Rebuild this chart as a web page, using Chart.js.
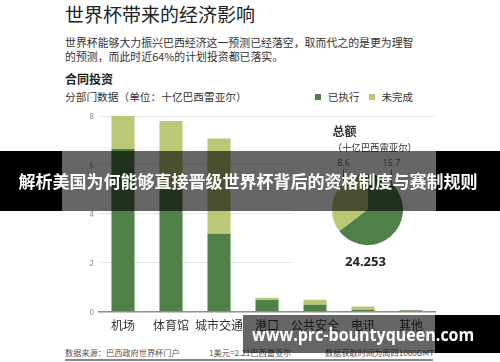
<!DOCTYPE html>
<html>
<head>
<meta charset="utf-8">
<script src="https://cdn.jsdelivr.net/npm/chart.js@4.4.1/dist/chart.umd.min.js"></script>
<style>
  html, body { margin: 0; padding: 0; background: #fff; }
  body { width: 500px; height: 362px; position: relative; overflow: hidden;
         font-family: "Noto Sans CJK SC", "Noto Sans", sans-serif; color: #333; }
  .abs { position: absolute; white-space: nowrap; }
  #title { left: 65px; top: 2px; font-size: 19px; line-height: 24px; color: #222; }
  #intro { left: 65px; top: 35px; font-size: 10.9px; line-height: 14px; }
  #sub { left: 65px; top: 71px; font-size: 12px; line-height: 16px; font-weight: bold; color: #222; }
  #unit { left: 65px; top: 90px; font-size: 10.7px; line-height: 14px; }
  #legend { left: 315px; top: 90px; font-size: 10.5px; line-height: 14px; }
  #legend span.sw { display: inline-block; width: 6px; height: 6px; margin-right: 7px; vertical-align: 1px; }
  #legend span.item { margin-right: 9px; }
  #barWrap { left: 86px; top: 100px; width: 350px; height: 240px; }
  #pieWrap { left: 292px; top: 120px; width: 144px; height: 170px; background: #fff; }
  .foot { top: 346px; font-size: 8.2px; line-height: 12px; color: #555; }
  #footLine { left: 65px; top: 359px; width: 368px; height: 2px; background: #888; }
  .blk { position: absolute; background: #000; }
  .shade { position: absolute; background: rgba(0,0,0,0.6); }
  #bannerText { left: 0; top: 151px; width: 496px; height: 60px; line-height: 60px; text-align: center;
                font-size: 17px; font-weight: bold; color: #fff; }
  #mark { left: 252px; top: 315px; height: 38px; line-height: 38px; font-family: "Open Sans", "Noto Sans", sans-serif;
          font-size: 18px; font-weight: bold; color: #fff; transform: scaleX(0.89); transform-origin: 0 50%; }
</style>
</head>
<body>
<div id="title" class="abs">世界杯带来的经济影响</div>
<div id="intro" class="abs">世界杯能够大力振兴巴西经济这一预测已经落空，取而代之的是更为理智<br>的预测，而此时近64%的计划投资都已落实。</div>
<div id="sub" class="abs">合同投资</div>
<div id="unit" class="abs">分部门数据（单位：十亿巴西雷亚尔）</div>
<div id="legend" class="abs"></div>

<div id="barWrap" class="abs"><canvas id="barChart"></canvas></div>
<div id="pieWrap" class="abs"><canvas id="pieChart"></canvas></div>

<div class="abs foot" style="left:65px">数据来源：巴西政府世界杯门户</div>
<div class="abs foot" style="left:209px">1美元=2.21巴西雷亚尔</div>
<div class="abs foot" style="left:325px">数据获取时间为周四1000GMT</div>
<div id="footLine" class="abs"></div>

<!-- overlay banner and watermark -->
<div class="blk" style="left:0;top:151px;width:62px;height:60px"></div>
<div class="shade" style="left:62px;top:151px;width:374px;height:60px"></div>
<div class="blk" style="left:436px;top:151px;width:64px;height:60px"></div>
<div id="bannerText" class="abs">解析美国为何能够直接晋级世界杯背后的资格制度与赛制规则</div>

<div class="shade" style="left:243px;top:315px;width:192px;height:38px"></div>
<div class="blk" style="left:435px;top:315px;width:65px;height:38px"></div>
<div id="mark" class="abs">www.prc-bountyqueen.com</div>

<script>
const categories = ["机场", "体育馆", "城市交通", "港口", "公共安全", "电讯", "其他"];
const executed = [6.65, 5.0, 3.18, 0.47, 0.28, 0.08, 0.05];
const pending = [1.4, 2.8, 3.9, 0.1, 0.2, 0.13, 0.02];
const seriesNames = ["已执行", "未完成"];
const seriesColors = ["#4f8047", "#bac776"];
const yTicks = [0, 2, 4, 6, 8];
const pieValues = [15.7, 8.6];
const pieTotal = "24.253";

// legend (html, sits next to the unit line)
document.getElementById("legend").innerHTML = seriesNames.map((n, i) =>
  `<span class="item"><span class="sw" style="background:${seriesColors[i]}"></span>${n}</span>`).join("");

Chart.defaults.font.family = "'Noto Sans CJK SC', 'Noto Sans', sans-serif";
Chart.defaults.animation = false;

new Chart(document.getElementById("barChart"), {
  type: "bar",
  data: {
    labels: categories,
    datasets: [
      { label: seriesNames[0], data: executed, backgroundColor: seriesColors[0] },
      { label: seriesNames[1], data: pending, backgroundColor: seriesColors[1] },
    ],
  },
  options: {
    responsive: true,
    maintainAspectRatio: false,
    layout: { padding: { top: 16, right: 1, left: 0, bottom: 0 } },
    plugins: { legend: { display: false }, tooltip: { enabled: false } },
    datasets: { bar: { barPercentage: 0.48, categoryPercentage: 1 } },
    scales: {
      x: {
        stacked: true,
        grid: { display: false, drawTicks: false },
        border: { display: true, color: "#8c8c8c", width: 1.5 },
        ticks: { color: "#333", padding: 7, font: { size: 12 }, maxRotation: 0, minRotation: 0, autoSkip: false },
      },
      y: {
        stacked: true,
        min: 0,
        max: 8,
        afterBuildTicks: s => { s.ticks = yTicks.map(v => ({ value: v })); },
        afterFit: s => { s.width = 13; },
        grid: { drawTicks: false, color: c => c.tick.value === 0 ? "rgba(0,0,0,0)" : "#e6e6e6" },
        border: { display: false },
        ticks: { color: "#888", padding: 5, font: { size: 8 } },
      },
    },
  },
});

// total annotation around the pie
const pieNotes = {
  id: "pieNotes",
  afterDraw(chart) {
    const ctx = chart.ctx;
    const arc = chart.getDatasetMeta(0).data[0];
    const cx = arc.x, cy = arc.y, r = arc.outerRadius;
    ctx.save();
    ctx.textBaseline = "middle";
    ctx.textAlign = "left";
    ctx.fillStyle = "#333";
    ctx.font = "bold 12px 'Noto Sans CJK SC'";
    ctx.fillText("总额", cx - 35, cy - 78);
    ctx.font = "9.4px 'Noto Sans CJK SC'";
    ctx.fillText("（十亿巴西雷亚尔）", cx - 35, cy - 62);

    const offs = [0.65, -0.68];
    ctx.textAlign = "center";
    ctx.font = "9px 'Noto Sans'";
    ctx.fillStyle = "#777";
    ctx.strokeStyle = "#777";
    ctx.lineWidth = 1;
    pieValues.forEach((v, i) => {
      const x = Math.round(cx + offs[i] * r) + 0.5;
      ctx.fillText(v.toFixed(1), x, cy - 46);
      ctx.beginPath();
      ctx.moveTo(x, cy - 40);
      ctx.lineTo(x, cy - Math.sqrt(r * r - (x - cx) * (x - cx)));
      ctx.stroke();
    });

    ctx.font = "bold 13px 'Noto Sans'";
    ctx.fillStyle = "#222";
    ctx.fillText(pieTotal, cx - 2, cy + 53);
    ctx.restore();
  },
};

new Chart(document.getElementById("pieChart"), {
  type: "pie",
  data: {
    labels: seriesNames,
    datasets: [{ data: pieValues, backgroundColor: seriesColors, borderWidth: 0 }],
  },
  options: {
    responsive: true,
    maintainAspectRatio: false,
    layout: { padding: { left: 40, right: 33, top: 54, bottom: 45 } },
    plugins: { legend: { display: false }, tooltip: { enabled: false } },
  },
  plugins: [pieNotes],
});
</script>
</body>
</html>
